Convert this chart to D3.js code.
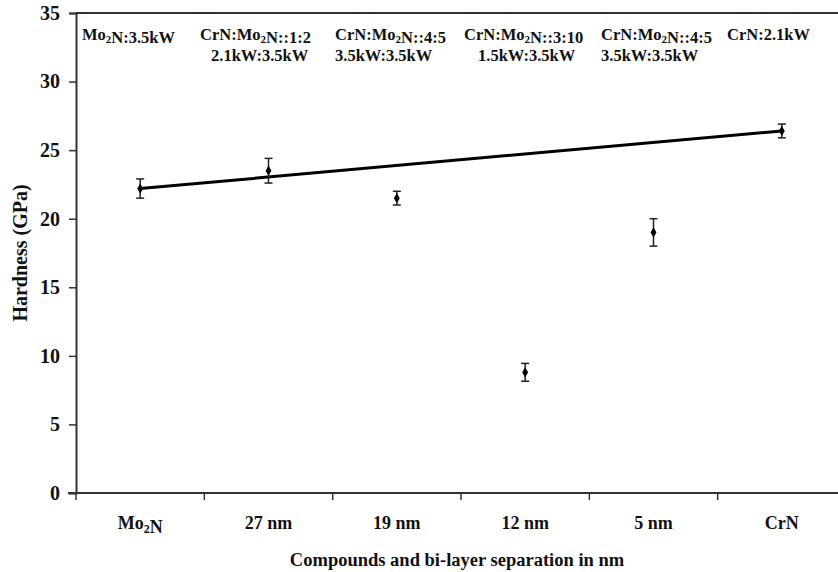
<!DOCTYPE html>
<html><head><meta charset="utf-8">
<script src="https://cdn.jsdelivr.net/npm/d3@7"></script>
<style>body{margin:0;background:#fff}svg{display:block}text{font-family:"Liberation Serif","Times New Roman",serif;font-weight:bold;fill:#111}</style>
</head><body><svg id="c" width="838" height="572"></svg>
<script>
const categories = ["Mo_2N", "27 nm", "19 nm", "12 nm", "5 nm", "CrN"];
const hardness = [22.2, 23.5, 21.5, 8.8, 19.0, 26.4];
const errors = [0.7, 0.9, 0.5, 0.65, 1.0, 0.5];
const trendIdx = [0, 5];
const yTicks = [0, 5, 10, 15, 20, 25, 30, 35];
const notesLine1 = ["Mo_2N:3.5kW", "CrN:Mo_2N::1:2", "CrN:Mo_2N::4:5", "CrN:Mo_2N::3:10", "CrN:Mo_2N::4:5", "CrN:2.1kW"];
const notesLine2 = ["", "2.1kW:3.5kW", "3.5kW:3.5kW", "1.5kW:3.5kW", "3.5kW:3.5kW", ""];
const xTitle = "Compounds and bi-layer separation in nm";
const yTitle = "Hardness (GPa)";

const svg = d3.select("#c");
const L = 76, R = 846, T = 13, B = 493;
const x = d3.scaleBand().domain(categories).range([L, R]);
const y = d3.scaleLinear().domain([0, 35]).range([B, T]);

function richText(sel, s, subSize, shift) {
  const parts = s.split(/_(\d)/);
  parts.forEach((p, i) => {
    if (p === "") return;
    if (i % 2 === 1) {
      sel.append("tspan").attr("font-size", subSize).attr("dy", shift).text(p);
      sel.append("tspan").attr("dy", -shift).text("");
    } else sel.append("tspan").text(p);
  });
}

// top border
svg.append("line").attr("x1", L).attr("x2", 838).attr("y1", T).attr("y2", T)
  .attr("stroke", "#333").attr("stroke-width", 2);

// y axis
const ya = svg.append("g").attr("transform", `translate(${L},0)`)
  .call(d3.axisLeft(y).tickValues(yTicks).tickSize(7).tickPadding(9).tickFormat(d3.format("d")));
ya.select(".domain").attr("stroke", "#333").attr("stroke-width", 2);
ya.selectAll(".tick line").attr("stroke", "#333").attr("stroke-width", 1.5);
ya.selectAll(".tick text").attr("font-size", 20).attr("font-family", "Liberation Serif").attr("font-weight", "bold").attr("fill", "#111");

// x axis
const xa = svg.append("g").attr("transform", `translate(0,${B})`)
  .call(d3.axisBottom(x).tickSize(0).tickFormat(""));
xa.select(".domain").attr("stroke", "#333").attr("stroke-width", 2).attr("d", `M${L - 8},0H838`);
const bw = x.bandwidth();
svg.append("g").selectAll("line").data(categories).join("line")
  .attr("x1", d => x(d)).attr("x2", d => x(d)).attr("y1", B).attr("y2", B + 7)
  .attr("stroke", "#333").attr("stroke-width", 1.5);
svg.append("g").selectAll("text").data(categories).join("text")
  .attr("x", d => x(d) + bw / 2).attr("y", 529).attr("text-anchor", "middle").attr("font-size", 18)
  .each(function(d) { richText(d3.select(this), d, 12, 4); });

// titles
svg.append("text").attr("x", 457).attr("y", 566).attr("text-anchor", "middle").attr("font-size", 18.5).text(xTitle);
svg.append("text").attr("transform", "translate(27,253) rotate(-90)").attr("text-anchor", "middle").attr("font-size", 20).text(yTitle);

// notes
const noteX = [82, 200, 335, 464, 601, 727];
const note2X = [0, 211, 335, 478, 601, 0];
svg.append("g").selectAll("text").data(notesLine1).join("text")
  .attr("x", (d, i) => noteX[i]).attr("y", 40).attr("font-size", 16.5)
  .each(function(d) { richText(d3.select(this), d, 11, 3); });
svg.append("g").selectAll("text").data(notesLine2).join("text")
  .attr("x", (d, i) => note2X[i]).attr("y", 61).attr("font-size", 16.5).text(d => d);

// trend line
svg.append("line")
  .attr("x1", x(categories[trendIdx[0]]) + bw / 2).attr("y1", y(hardness[trendIdx[0]]))
  .attr("x2", x(categories[trendIdx[1]]) + bw / 2).attr("y2", y(hardness[trendIdx[1]]))
  .attr("stroke", "#000").attr("stroke-width", 3);

// error bars
const eb = svg.append("g").attr("stroke", "#222").attr("stroke-width", 1.5);
categories.forEach((c, i) => {
  const cx = x(c) + bw / 2;
  const y1 = y(hardness[i] + errors[i]), y2 = y(hardness[i] - errors[i]);
  eb.append("line").attr("x1", cx).attr("x2", cx).attr("y1", y1).attr("y2", y2);
  eb.append("line").attr("x1", cx - 4).attr("x2", cx + 4).attr("y1", y1).attr("y2", y1);
  eb.append("line").attr("x1", cx - 4).attr("x2", cx + 4).attr("y1", y2).attr("y2", y2);
});

// markers
svg.append("g").selectAll("path").data(hardness).join("path")
  .attr("d", d3.symbol().type(d3.symbolDiamond).size(30))
  .attr("transform", (d, i) => `translate(${x(categories[i]) + bw / 2},${y(d)})`)
  .attr("fill", "#000");
</script></body></html>
